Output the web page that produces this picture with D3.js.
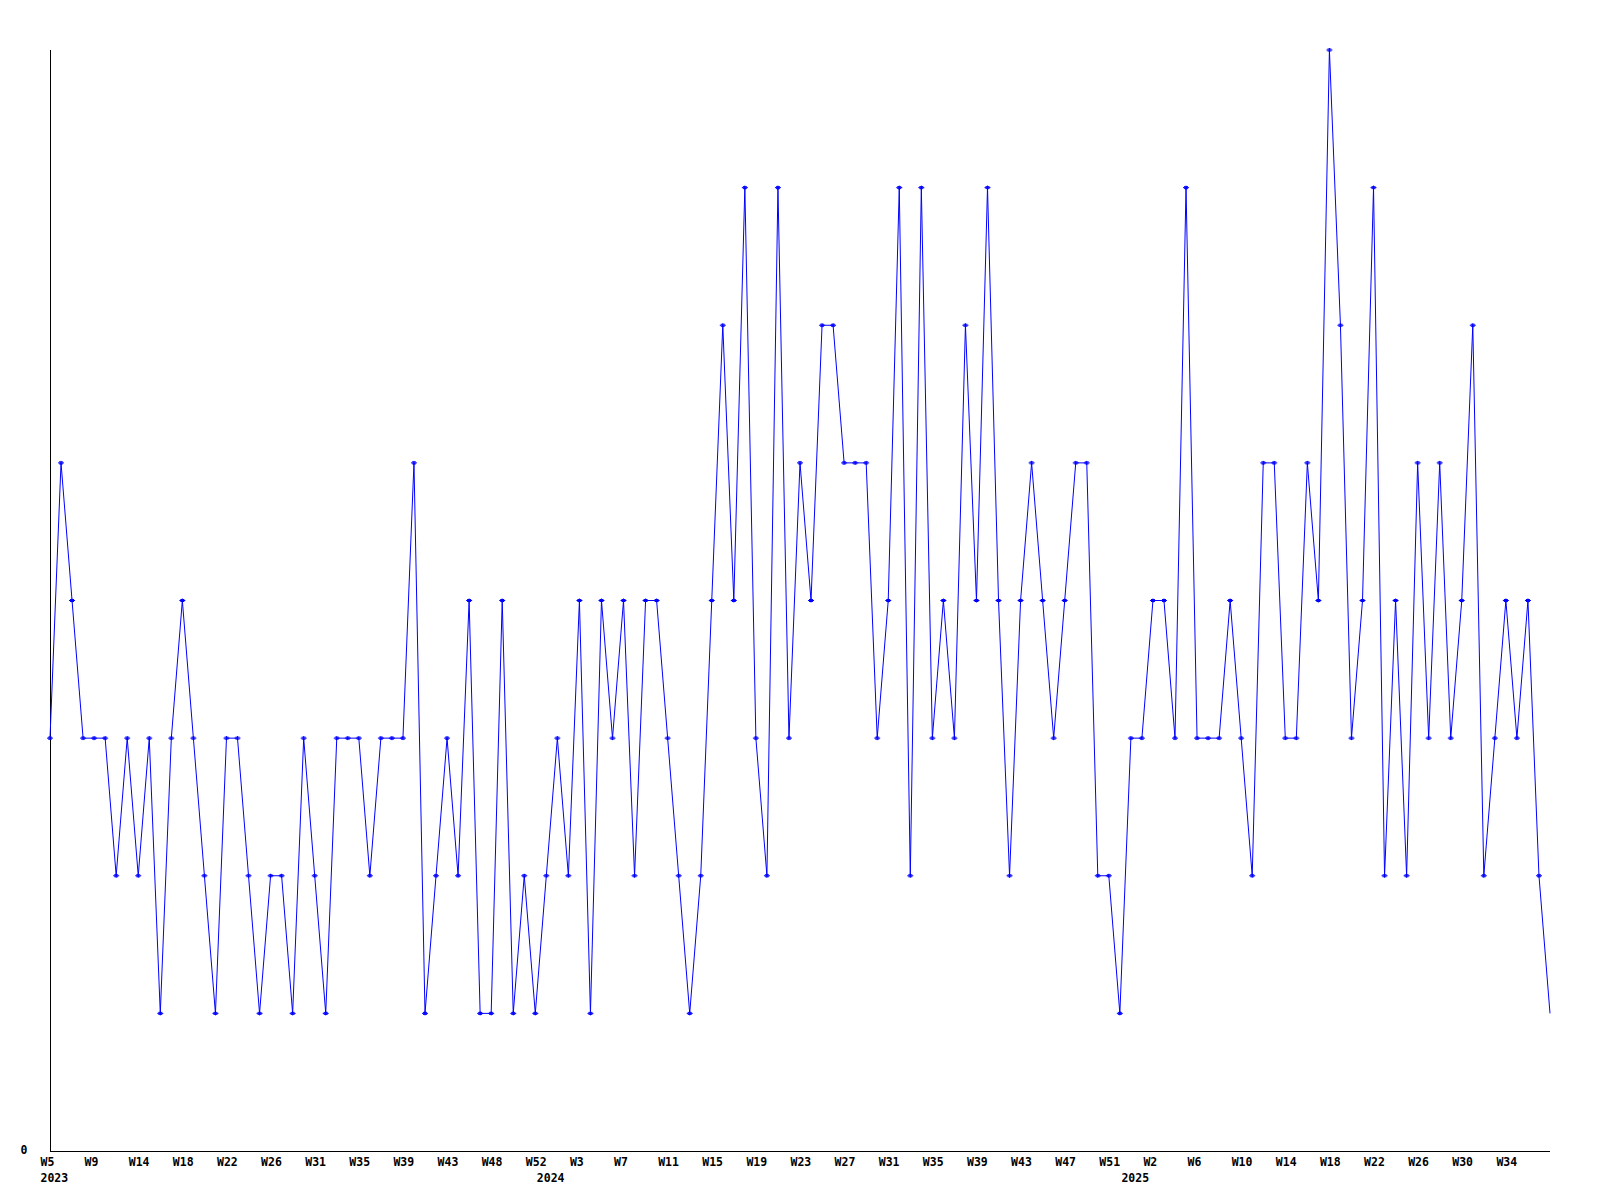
<!DOCTYPE html>
<html>
<head>
<meta charset="utf-8">
<script src="https://cdn.jsdelivr.net/npm/d3@7"></script>
<style>
body{margin:0;background:#fff;}
.tick text{font-family:'DejaVu Sans Mono',monospace;font-weight:bold;font-size:11.5px;fill:#000;}
</style>
</head>
<body>
<script>
// weekly counts, one value per point
var values=[3,5,4,3,3,3,2,3,2,3,1,3,4,3,2,1,3,3,2,1,2,2,1,3,2,1,3,3,3,2,3,3,3,5,1,2,3,2,4,1,
    1,4,1,2,1,2,3,2,4,1,4,3,4,2,4,4,3,2,1,2,4,6,4,7,3,2,7,3,5,4,6,6,5,5,5,3,4,7,2,7,
    3,4,3,6,4,7,4,2,4,5,4,3,4,5,5,2,2,1,3,3,4,4,3,7,3,3,3,4,3,2,5,5,3,3,5,4,8,6,3,4,
    7,2,4,2,5,3,5,3,4,6,2,3,4,3,4,2,1];
// week labels, one every 4th point
var weekLabels=['W5','W9','W14','W18','W22','W26','W31','W35','W39','W43','W48','W52',
    'W3','W7','W11','W15','W19','W23','W27','W31','W35','W39','W43','W47','W51',
    'W2','W6','W10','W14','W18','W22','W26','W30','W34'];
var labelStep=4;
var yearLabels=['2023','2024','2025'];
var yearStart=[0,45,98];
var yMax=8;

var W=1600,H=1200;
var mLeft=50,mRight=1550,mTop=50,mBottom=1151;

var svg=d3.select('body').append('svg').attr('width',W).attr('height',H);

var x=d3.scaleLinear().domain([0,values.length-1]).range([mLeft,mRight]);
var y=d3.scaleLinear().domain([0,yMax]).range([mBottom,mTop]);

// x axis with week labels
var xAxis=d3.axisBottom(x)
    .tickValues(weekLabels.map(function(d,i){return i*labelStep;}))
    .tickFormat(function(d){return weekLabels[d/labelStep];})
    .tickSize(0).tickPadding(0);
var gx=svg.append('g').attr('transform','translate(0,'+(mBottom+0.5)+')').call(xAxis);
gx.select('.domain').attr('stroke','#000').attr('d','M'+mLeft+',0H'+mRight);
gx.selectAll('.tick text').attr('text-anchor','start').attr('dx',-10).attr('y',14).attr('dy',0);

// year row
var yearAxis=d3.axisBottom(x)
    .tickValues(yearStart)
    .tickFormat(function(d,i){return yearLabels[i];})
    .tickSize(0);
var gyear=svg.append('g').attr('transform','translate(0,'+(mBottom+0.5)+')').call(yearAxis);
gyear.select('.domain').remove();
gyear.selectAll('.tick text').attr('text-anchor','start').attr('dx',-10).attr('y',30).attr('dy',0);

// y axis, only 0 labelled
var yAxis=d3.axisLeft(y).tickValues([0]).tickFormat(d3.format('d')).tickSize(0).tickPadding(23);
var gy=svg.append('g').attr('transform','translate('+(mLeft+0.5)+',0)').call(yAxis);
gy.select('.domain').attr('stroke','#000').attr('d','M0,'+mTop+'V'+(mBottom+0.5));
gy.selectAll('.tick text').attr('dy',2);

// line
var line=d3.line().x(function(d,i){return x(i);}).y(function(d){return y(d);});
svg.append('path').datum(values)
    .attr('d',line)
    .attr('fill','none')
    .attr('stroke','#0000ff')
    .attr('stroke-width',1);

// point markers (last point has none)
svg.selectAll('.pt').data(values.slice(0,-1)).enter().append('path')
    .attr('class','pt')
    .attr('transform',function(d,i){return 'translate('+x(i)+','+y(d)+')';})
    .attr('d','M-3,0H3M0,-2V2M-2,-1H2M-2,1H2')
    .attr('stroke','#0000ff')
    .attr('stroke-width',1);
</script>
</body>
</html>
